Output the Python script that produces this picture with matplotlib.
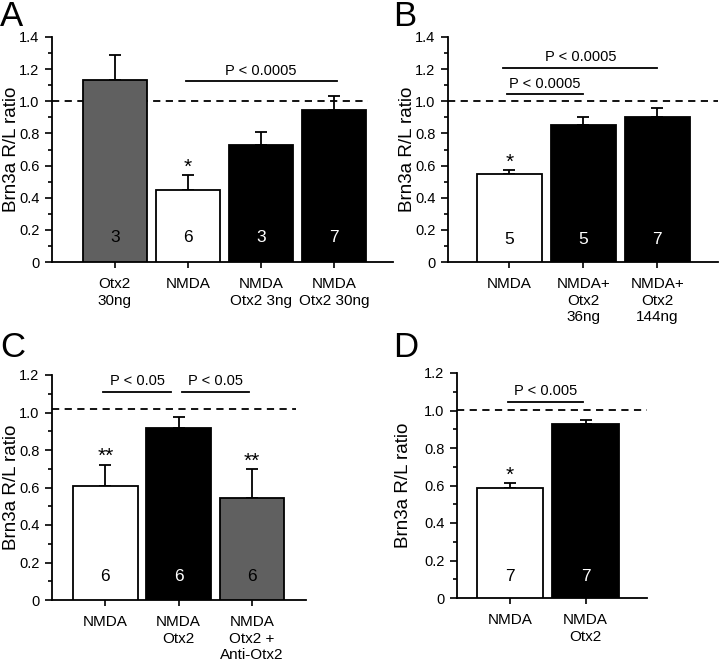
import matplotlib
matplotlib.use("Agg")
import matplotlib.pyplot as plt
from matplotlib.ticker import MultipleLocator, FuncFormatter

plt.rcParams['font.family'] = ['Liberation Sans', 'DejaVu Sans']

# data
a_labels = ["Otx2\n30ng", "NMDA", "NMDA\nOtx2 3ng", "NMDA\nOtx2 30ng"]
a_means = [1.13, 0.45, 0.725, 0.945]
a_err = [0.16, 0.09, 0.085, 0.085]
a_n = [3, 6, 3, 7]
a_colors = ["#606060", "white", "black", "black"]

b_labels = ["NMDA", "NMDA+\nOtx2\n36ng", "NMDA+\nOtx2\n144ng"]
b_means = [0.55, 0.855, 0.90]
b_err = [0.02, 0.05, 0.06]
b_n = [5, 5, 7]
b_colors = ["white", "black", "black"]

c_labels = ["NMDA", "NMDA\nOtx2", "NMDA\nOtx2 +\nAnti-Otx2"]
c_means = [0.607, 0.92, 0.543]
c_err = [0.115, 0.057, 0.155]
c_n = [6, 6, 6]
c_colors = ["white", "black", "#606060"]

d_labels = ["NMDA", "NMDA\nOtx2"]
d_means = [0.585, 0.928]
d_err = [0.027, 0.022]
d_n = [7, 7]
d_colors = ["white", "black"]

W, H = 720, 661
fig = plt.figure(figsize=(W / 100, H / 100), dpi=100)


def make_ax(x0, x1, ytop, ybot, label_x):
    ax = fig.add_axes([x0 / W, 1 - ybot / H, (x1 - x0) / W, (ybot - ytop) / H])
    # y label placed in figure pixels, like the source
    fig.text(label_x / W, 1 - (ytop + ybot) / 2 / H, "Brn3a R/L ratio", rotation=90,
             ha="center", va="center", fontsize=13.5)
    return ax


def panel(ax, labels, means, err, n, colors, ymax, xlim, stars, dash, pbars, count_y):
    x = list(range(len(means)))
    ax.bar(x, means, width=0.88, color=colors, edgecolor="black", linewidth=1.3, zorder=3)
    ax.errorbar(x, means, yerr=[[0] * len(err), err], fmt="none", ecolor="black",
                elinewidth=1.3, capsize=4, capthick=1.3, zorder=2)
    for xi, k, c in zip(x, n, colors):
        tc = "white" if c == "black" else "black"
        ax.text(xi, count_y, str(k), ha="center", va="center",
                fontsize=12.5, color=tc, zorder=4)
    for xi, s in stars:
        ax.annotate(s, (xi, means[xi] + err[xi]), xytext=(0, -1), textcoords="offset points",
                    ha="center", va="bottom", fontsize=15)
    ax.plot([xlim[0], dash[0]], [dash[1], dash[1]], ls=(0, (4, 3)),
            color="black", lw=1.3, zorder=1, clip_on=False)
    for x0, x1, yl, txt in pbars:
        ax.plot([x0, x1], [yl, yl], color="black", lw=1.3)
        ax.text((x0 + x1) / 2, yl + 0.02, txt, ha="center", va="bottom", fontsize=10.5)
    ax.set_xlim(*xlim)
    ax.set_ylim(0, ymax)
    ax.spines["top"].set_visible(False)
    ax.spines["right"].set_visible(False)
    ax.spines["left"].set_linewidth(1.3)
    ax.spines["bottom"].set_linewidth(1.3)
    ax.yaxis.set_major_locator(MultipleLocator(0.2))
    ax.yaxis.set_minor_locator(MultipleLocator(0.1))
    ax.yaxis.set_major_formatter(FuncFormatter(lambda v, p: "0" if abs(v) < 1e-9 else f"{v:.1f}"))
    ax.tick_params(axis="y", which="major", direction="out", length=5, width=1.2, labelsize=10.5, pad=4)
    ax.tick_params(axis="y", which="minor", direction="out", length=3, width=1.2)
    ax.set_xticks(x)
    ax.set_xticklabels(labels, fontsize=11, linespacing=1.22)
    ax.tick_params(axis="x", direction="out", length=4, width=1.2, pad=7)


axA = make_ax(52, 393, 37, 262, 12)
panel(axA, a_labels, a_means, a_err, a_n, a_colors, 1.4, (-0.86, 3.81),
      [(1, "*")], (3.47, 1.0), [(0.97, 3.04, 1.126, "P < 0.0005")], 0.15)

axB = make_ax(448, 718, 37, 262, 408)
panel(axB, b_labels, b_means, b_err, b_n, b_colors, 1.4, (-0.83, 2.82),
      [(0, "*")], (2.82, 1.0), [(-0.03, 0.99, 1.045, "P < 0.0005"), (-0.08, 2.0, 1.209, "P < 0.0005")], 0.14)

axC = make_ax(52, 306, 375, 600, 12)
panel(axC, c_labels, c_means, c_err, c_n, c_colors, 1.2, (-0.73, 2.74),
      [(0, "**"), (2, "**")], (2.6, 1.017), [(-0.03, 0.9, 1.109, "P < 0.05"), (1.04, 1.96, 1.109, "P < 0.05")], 0.123)

axD = make_ax(457, 647, 373, 598, 403)
panel(axD, d_labels, d_means, d_err, d_n, d_colors, 1.2, (-0.70, 1.81),
      [(0, "*")], (1.81, 1.003), [(-0.02, 0.97, 1.047, "P < 0.005")], 0.115)

for lab, px, py in [("A", 0, 0), ("B", 393, 0), ("C", 0, 331), ("D", 393, 331)]:
    fig.text(px / W, 1 - py / H, lab, fontsize=25, ha="left", va="top")

fig.savefig("out.png", dpi=100)
